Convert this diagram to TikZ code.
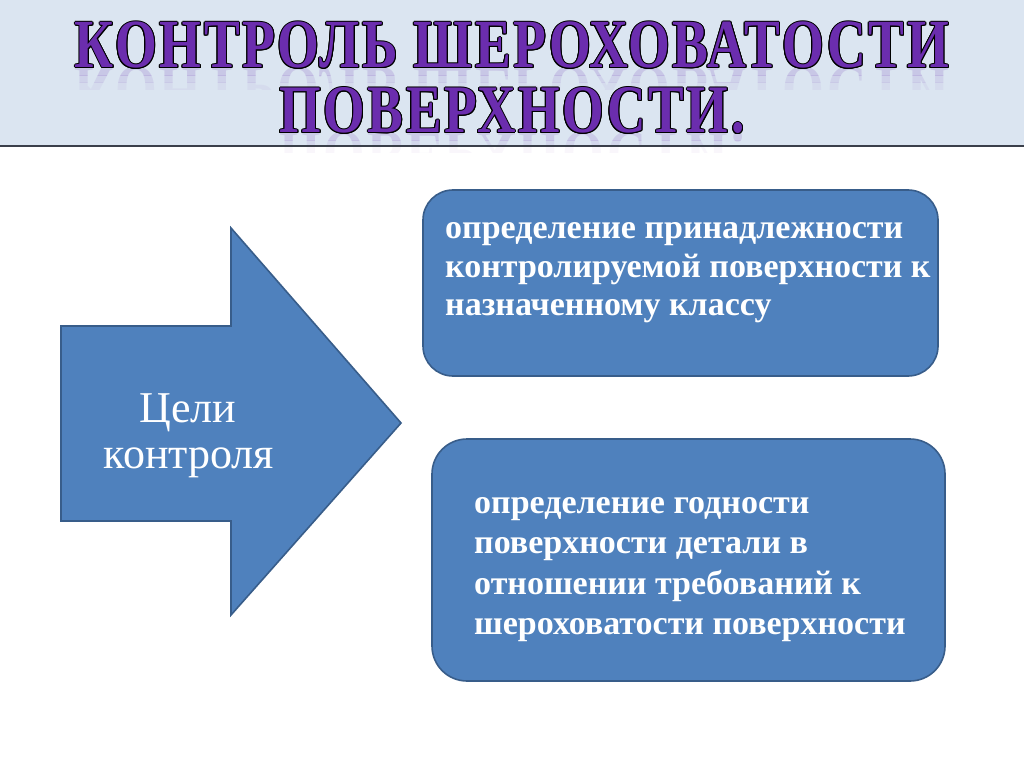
\documentclass[tikz,border=0pt]{standalone}
\usepackage{fontspec}
\setmainfont{Liberation Serif}
\newfontfamily\titlefont{Liberation Serif}[LetterSpace=5]
\usepackage{graphicx}
\usetikzlibrary{calc}
\definecolor{hdrbg}{HTML}{DBE5F1}
\definecolor{hdrline}{HTML}{3A3F4A}
\definecolor{shapefill}{HTML}{4F81BD}
\definecolor{shapeline}{HTML}{385D8A}
\definecolor{titlepurple}{HTML}{6B2DAE}
\newcommand{\ttlA}{\resizebox{874pt}{\height}{\fontsize{69}{69}\titlefont\bfseries КОНТРОЛЬ ШЕРОХОВАТОСТИ}}
\newcommand{\ttlB}{\resizebox{465pt}{\height}{\fontsize{68}{68}\titlefont\bfseries ПОВЕРХНОСТИ.}}
\begin{document}
\begin{tikzpicture}[x=1pt,y=-1pt,
  tnode/.style={inner sep=0pt, outer sep=0pt, anchor=base},
  blockshape/.style={draw=shapeline, fill=shapefill, line width=1.6pt},
  boxtext/.style={inner sep=0pt, anchor=base west, text=white, font=\fontsize{34}{38}\selectfont\bfseries},
  arrtext/.style={inner sep=0pt, anchor=base, text=white, font=\fontsize{44}{45}\selectfont}]
\useasboundingbox (0,0) rectangle (1024,767);
\fill[white] (0,0) rectangle (1024,767);
% header band
\fill[hdrbg] (0,0) rectangle (1024,146);
% reflections (fading in bands)
\foreach \ya/\yb/\op in {68/76/0.16, 76/83/0.10, 83/90/0.05}{
  \begin{scope}
    \clip (0,\ya) rectangle (1024,\yb);
    \node[tnode, yscale=-1, transform shape, text=titlepurple, opacity=\op] at (512,68) {\ttlA};
  \end{scope}
}
\foreach \ya/\yb/\op in {133/141/0.14, 141/147/0.08, 147/153/0.04}{
  \begin{scope}
    \clip (0,\ya) rectangle (1024,\yb);
    \node[tnode, yscale=-1, transform shape, text=titlepurple, opacity=\op] at (512,133) {\ttlB};
  \end{scope}
}
% title outline + fill
\foreach \a in {0,30,...,330}{
  \node[tnode, text=black] at ($(512,68)+(\a:1.0pt)$) {\ttlA};
  \node[tnode, text=black] at ($(512,133)+(\a:1.0pt)$) {\ttlB};
}
\node[tnode, text=titlepurple] (titleA) at (512,68) {\ttlA};
\node[tnode, text=titlepurple] (titleB) at (512,133) {\ttlB};
\draw[hdrline, line width=1.8pt] (0,146) -- (1024,146);
% arrow
\draw[blockshape, line join=miter] (61,326) -- (231,326) -- (231,228) -- (401,423) -- (231,615) -- (231,521) -- (61,521) -- cycle;
\node[arrtext] (goal1) at (188,422) {Цели};
\node[arrtext] (goal2) at (189,468) {контроля};
% box 1
\node[blockshape, rounded corners=30pt, minimum width=515pt, minimum height=186pt, inner sep=0pt] (box1) at (680.5,283) {};
\node[boxtext] (b1l1) at (445,239) {определение принадлежности};
\node[boxtext] (b1l2) at (445,277) {контролируемой поверхности к};
\node[boxtext] (b1l3) at (445,315) {назначенному классу};
% box 2
\node[blockshape, rounded corners=35pt, minimum width=513pt, minimum height=242pt, inner sep=0pt] (box2) at (688.5,560) {};
\node[boxtext] (b2l1) at (474,513) {определение годности};
\node[boxtext] (b2l2) at (474,553) {поверхности детали в};
\node[boxtext] (b2l3) at (474,594) {отношении требований к};
\node[boxtext] (b2l4) at (474,634) {шероховатости поверхности};
\end{tikzpicture}
\end{document}
